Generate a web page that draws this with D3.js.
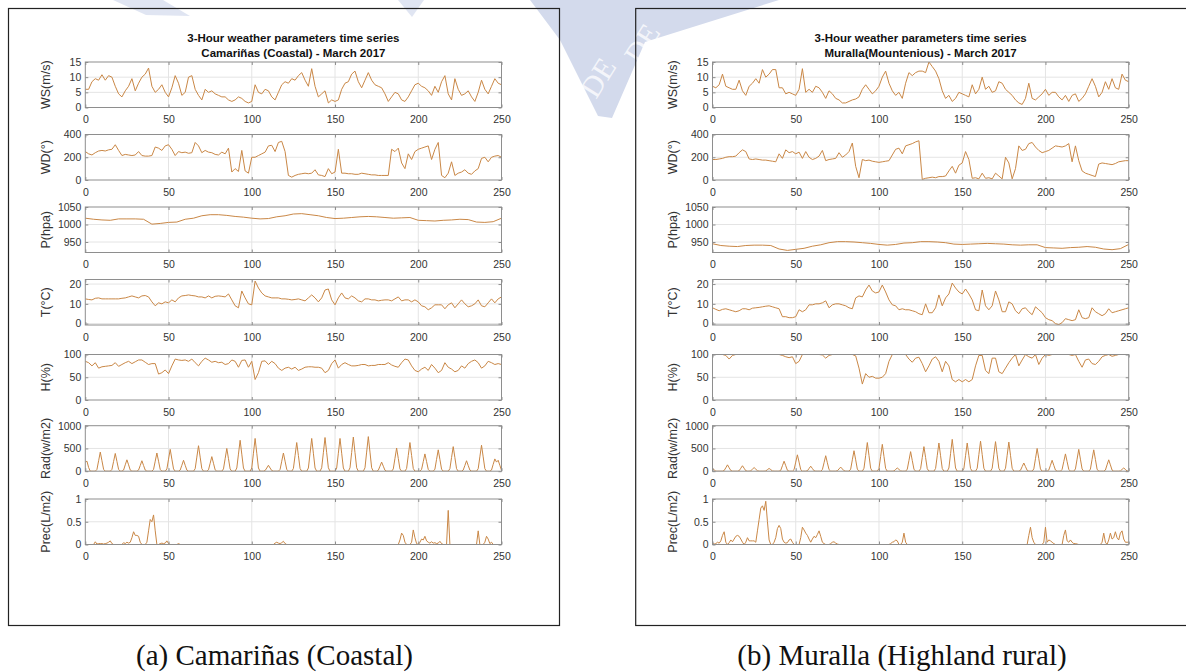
<!DOCTYPE html>
<html lang="en">
<head>
<meta charset="UTF-8">
<title>3-Hour weather parameters time series</title>
<script src="https://d3js.org/d3.v7.min.js"></script>
<style>
  body { margin: 0; background: #fff; overflow: hidden; }
  svg { display: block; }
</style>
</head>
<body>
<svg id="chart"></svg>
<script>
// spacing (in 3-hour samples) between two values of each array
const stepWind = 2, stepPres = 5, stepRad = 1;

const xTicks = [0, 50, 100, 150, 200, 250];

// ---- Camariñas (coastal) ----
const wsCoastal = [
  6, 6, 8.5, 9.5, 9, 10.8, 9, 10.5, 10, 7,
  4.5, 3.5, 5.5, 7, 9.5, 5.5, 8, 10, 11, 13,
  7, 5, 6, 7.5, 5, 3.5, 6.5, 10.5, 8, 4,
  5, 10, 10.5, 6, 4, 2.5, 6, 5, 5.5, 4.5,
  4, 3.5, 3.5, 2.5, 2, 2.5, 3.5, 3, 2, 1.5,
  2, 7.5, 5, 4.5, 6, 5.5, 3.5, 2.5, 5, 7.5,
  8.5, 8, 9.5, 9, 10.5, 11.5, 9, 7, 12.8, 7,
  3.5, 4.5, 5.5, 1.5, 2.5, 2, 2.5, 6, 8, 8.5,
  11, 12, 8.5, 6.5, 9, 11.5, 9, 7.5, 7, 6.5,
  4.5, 2, 3.5, 5, 4.5, 2.5, 2, 3.5, 5.5, 7.5,
  8, 7, 6.5, 5.5, 4, 7, 5, 8.5, 10.5, 4.5,
  2.5, 9.5, 6, 4, 4.5, 5.5, 3.5, 2, 5, 9,
  6, 4.5, 7, 9.5, 8, 7.5
];
const wdCoastal = [
  250, 230, 220, 240, 255, 260, 255, 265, 270, 310,
  260, 215, 225, 220, 215, 220, 250, 215, 210, 210,
  215, 290, 280, 260, 300, 310, 270, 215, 250, 240,
  245, 235, 240, 330, 300, 240, 260, 245, 240, 225,
  220, 245, 230, 280, 70, 100, 75, 260, 80, 60,
  200, 200, 215, 230, 245, 300, 305, 250, 330, 340,
  250, 40, 25, 40, 50, 55, 60, 55, 60, 90,
  45, 40, 30, 100, 55, 70, 270, 60, 60, 55,
  55, 50, 50, 60, 55, 50, 45, 45, 40, 40,
  40, 40, 270, 250, 280, 150, 100, 230, 180, 250,
  270, 280, 290, 300, 180, 270, 330, 40, 20, 60,
  160, 40, 60, 70, 90, 60, 50, 80, 100, 190,
  200, 160, 200, 210, 215, 200
];
const pCoastal = [
  1018, 1015, 1013, 1012, 1016, 1016, 1016, 1015, 1001, 1003,
  1006, 1007, 1015, 1018, 1025, 1028, 1028, 1026, 1023, 1021,
  1018, 1016, 1017, 1022, 1025, 1030, 1031, 1028, 1025, 1020,
  1017, 1018, 1020, 1022, 1023, 1022, 1020, 1018, 1019, 1020,
  1012, 1011, 1010, 1012, 1013, 1015, 1014, 1007, 1006, 1008,
  1018
];
const tCoastal = [
  12.5, 12.2, 12, 12.8, 13, 12.5, 12.5, 12.5, 12.5, 12.5,
  12.5, 12.8, 13, 13.5, 14, 13.5, 13, 14, 14.2, 13.5,
  11, 9, 10.5, 10, 11, 10.5, 12, 11, 13, 14,
  14.2, 14.5, 14.2, 14, 13.5, 13.5, 13, 14, 13, 13.8,
  14, 13.8, 13.5, 15, 12, 9, 8, 16.5, 13, 10,
  9.5, 21.5, 18, 15.5, 14, 13.5, 13, 13, 13, 12.5,
  12.5, 12.3, 12, 12.2, 12.5, 12, 11.5, 13, 14.5, 13,
  11, 13, 17, 17.5, 12, 9.5, 13, 15.5, 13, 12.5,
  14, 13, 11.5, 11, 12.5, 12.5, 12, 12, 11.5, 11.8,
  12, 12, 11.5, 12.5, 13.5, 11.5, 12, 12, 11, 12,
  11, 9, 8.5, 7, 8, 9.5, 9.5, 9.5, 7.5, 9.5,
  10.5, 8, 10, 12, 10, 8.5, 9, 10, 12, 9,
  8.5, 10.5, 12.5, 10.5, 12.5, 13.5
];
const hCoastal = [
  85, 82, 75, 82, 70, 73, 74, 75, 76, 82,
  74, 78, 82, 85, 80, 84, 88, 88, 83, 78,
  80, 80, 57, 60, 66, 58, 75, 90, 88, 87,
  88, 85, 90, 82, 75, 85, 92, 88, 83, 85,
  82, 83, 78, 80, 88, 85, 72, 87, 88, 72,
  85, 45, 60, 85, 86, 78, 85, 80, 70, 65,
  70, 72, 68, 72, 65, 68, 72, 73, 73, 72,
  72, 70, 60, 65, 80, 88, 70, 78, 82, 78,
  75, 75, 76, 78, 78, 75, 76, 76, 78, 78,
  78, 82, 77, 74, 72, 82, 90, 88, 75, 65,
  62, 68, 72, 65, 78, 70, 60, 65, 82, 72,
  68, 62, 65, 75, 70, 80, 85, 88, 82, 70,
  75, 85, 82, 78, 80, 78
];
const radCoastal = [
  200, 220, 80, 0, 0, 0, 0, 40, 230, 420,
  230, 40, 0, 0, 0, 0, 40, 215, 390, 215,
  40, 0, 0, 25, 140, 250, 140, 25, 0, 0,
  0, 0, 25, 125, 230, 125, 25, 0, 0, 0,
  0, 40, 220, 400, 220, 40, 0, 0, 0, 50,
  265, 480, 265, 50, 0, 0, 0, 25, 130, 240,
  130, 25, 0, 0, 0, 0, 55, 310, 560, 310,
  55, 0, 0, 0, 30, 175, 320, 175, 30, 0,
  0, 0, 0, 50, 275, 500, 275, 50, 0, 0,
  0, 70, 375, 680, 375, 70, 0, 0, 0, 0,
  70, 395, 720, 395, 70, 0, 0, 0, 15, 70,
  130, 70, 15, 0, 0, 0, 0, 40, 220, 400,
  220, 40, 0, 0, 0, 60, 345, 630, 345, 60,
  0, 0, 0, 0, 70, 395, 720, 395, 70, 0,
  0, 0, 75, 405, 740, 405, 75, 0, 0, 0,
  0, 70, 395, 720, 395, 70, 0, 0, 0, 75,
  410, 750, 410, 75, 0, 0, 0, 0, 75, 420,
  760, 420, 75, 0, 0, 0, 20, 110, 200, 110,
  20, 0, 0, 0, 0, 50, 280, 510, 280, 50,
  0, 0, 0, 60, 345, 630, 345, 60, 0, 0,
  0, 0, 40, 210, 380, 210, 40, 0, 0, 0,
  45, 260, 470, 260, 45, 0, 0, 0, 0, 55,
  300, 540, 300, 55, 0, 0, 0, 25, 125, 230,
  125, 25, 0, 0, 0, 0, 55, 315, 570, 315,
  55, 0, 0, 0, 25, 150, 270, 200, 240, 130,
  20
];
const precCoastal = [
  0, 0, 0, 0, 0, 0, 0.06, 0.01, 0.02, 0.02,
  0.02, 0.01, 0.02, 0.03, 0.05, 0.08, 0.02, 0, 0, 0,
  0, 0, 0, 0.04, 0.02, 0.05, 0.03, 0.05, 0.15, 0.28,
  0.2, 0.2, 0.18, 0.05, 0, 0, 0, 0.05, 0.3, 0.55,
  0.5, 0.65, 0.3, 0, 0, 0.02, 0.03, 0.02, 0.03, 0.08,
  0.02, 0, 0, 0, 0, 0, 0.02, 0, 0, 0,
  0, 0, 0, 0, 0, 0, 0, 0, 0, 0,
  0, 0, 0, 0, 0, 0, 0, 0, 0, 0,
  0, 0, 0, 0, 0, 0, 0, 0, 0, 0,
  0, 0, 0, 0, 0, 0, 0, 0, 0, 0,
  0, 0, 0, 0, 0, 0, 0, 0, 0, 0,
  0, 0, 0, 0, 0.03, 0.05, 0.03, 0.02, 0.04, 0.07,
  0.02, 0, 0, 0, 0, 0, 0, 0, 0, 0,
  0, 0, 0, 0, 0, 0, 0, 0, 0, 0,
  0, 0, 0, 0, 0, 0, 0, 0, 0, 0,
  0, 0, 0, 0, 0, 0, 0, 0, 0, 0,
  0, 0, 0, 0, 0, 0, 0, 0, 0, 0,
  0, 0, 0, 0, 0, 0, 0, 0, 0, 0,
  0, 0, 0, 0, 0, 0, 0, 0, 0, 0.1,
  0.25, 0.2, 0.05, 0, 0, 0, 0.05, 0.32, 0.15, 0.02,
  0, 0.05, 0.12, 0.1, 0.18, 0.08, 0.05, 0.03, 0.06, 0.03,
  0.04, 0.02, 0.03, 0.07, 0.02, 0, 0, 0, 0.75, 0,
  0, 0, 0, 0, 0, 0, 0, 0, 0, 0,
  0, 0, 0, 0, 0, 0, 0.3, 0, 0, 0,
  0.05, 0.18, 0.12, 0.02, 0.05, 0, 0, 0, 0, 0,
  0
];

// ---- Muralla (mountain) ----
const wsMountain = [
  7, 6.5, 7.5, 11, 7, 6.5, 6, 6, 9, 5.5,
  4, 7, 8, 9.5, 8, 12.5, 10, 11, 12.5, 12.5,
  6.5, 6.5, 4.5, 5, 4.5, 4, 6, 12.8, 5, 6,
  5, 7, 6.5, 5, 3, 5.5, 4.5, 3, 2.5, 1.5,
  1.5, 2, 2.5, 2.8, 3.5, 6, 7.5, 6, 4.5, 5.5,
  7, 10, 12, 8, 5.5, 4, 5, 3, 8, 11.5,
  10.5, 11.5, 12, 12, 11.5, 15, 13.5, 12, 9.5, 5.5,
  3, 4, 2, 3, 5, 4.5, 4, 3.5, 7.5, 4.5,
  6, 10, 6, 7, 5, 5.5, 8.5, 8, 6, 5,
  4, 2.5, 1.5, 1, 3, 8, 3, 2.5, 3.5, 4.5,
  6, 4, 5, 5, 3.5, 2.5, 4, 2, 4, 4.5,
  2, 3, 4.5, 7, 9.5, 7, 3.5, 5, 8.5, 6,
  9.5, 6.5, 6, 11, 9, 8.5
];
const wdMountain = [
  180, 180, 185, 190, 200, 205, 205, 210, 240, 265,
  250, 185, 180, 185, 180, 175, 175, 170, 165, 160,
  230, 190, 265, 240, 250, 230, 245, 190, 250, 200,
  180, 190, 210, 260, 170, 180, 185, 190, 240, 200,
  220, 250, 325, 120, 20, 180, 170, 175, 165, 160,
  155, 160, 165, 170, 220, 270, 280, 230, 300, 310,
  320, 335, 345, 5, 15, 20, 25, 20, 30, 30,
  35, 80, 120, 60, 130, 150, 250, 180, 15, 20,
  10, 60, 15, 20, 10, 60, 35, 10, 200, 150,
  10, 100, 300, 260, 270, 320, 330, 290, 260, 240,
  250, 260, 280, 300, 295, 290, 300, 320, 160, 300,
  170, 80, 60, 50, 40, 30, 140, 150, 145, 140,
  135, 145, 160, 165, 170, 170
];
const pMountain = [
  945, 940, 938, 937, 940, 941, 941, 940, 930, 926,
  929, 932, 938, 942, 948, 951, 951, 950, 948, 946,
  943, 941, 943, 947, 948, 951, 951, 950, 948, 944,
  943, 944, 945, 946, 945, 944, 942, 941, 942, 942,
  934, 933, 932, 934, 935, 937, 935, 930, 928, 931,
  943
];
const tMountain = [
  8, 7.2, 6.5, 7.2, 7.5, 7, 6.5, 6, 6.5, 7.5,
  7.5, 7, 7.8, 8, 8.2, 8.5, 8.8, 9, 8.5, 8,
  7.5, 3.5, 3.5, 3, 3, 3.5, 7, 6, 7, 9.5,
  9.5, 10, 10, 10.5, 11.5, 8, 9.5, 10, 10, 9.5,
  9, 8, 7.5, 13, 14, 13.5, 17, 19.5, 16.5, 15.5,
  16, 19.5, 16, 12, 9.5, 9, 7, 7.5, 7, 7,
  6.5, 6, 5, 4.5, 10, 5.5, 5.5, 8, 14.5, 9,
  13, 15, 20.5, 18, 16, 15, 17.5, 15, 12, 7,
  6.5, 17, 9, 7, 9, 16.5, 12, 6, 6, 11,
  10, 6.5, 5, 7.5, 8, 6, 4.5, 8.5, 7, 5.5,
  3, 2, 1.5, 0, -0.5, 0.5, 2.5, 2, 1.5, 2,
  7, 3, 2.5, 3, 8, 6, 5, 4, 5, 7.5,
  5.5, 6, 6.5, 7, 7.5, 8
];
const hMountain = [
  100, 100, 100, 100, 98, 90, 98, 100, 100, 100,
  100, 100, 100, 100, 100, 100, 100, 100, 100, 100,
  100, 98, 95, 93, 95, 80, 85, 100, 100, 100,
  100, 100, 100, 99, 92, 98, 100, 100, 100, 100,
  100, 100, 100, 97, 70, 35, 58, 50, 52, 48,
  48, 50, 58, 85, 100, 100, 100, 100, 100, 90,
  83, 92, 94, 80, 62, 75, 90, 95, 85, 62,
  85, 75, 45, 40, 45, 40, 45, 40, 45, 75,
  98, 98, 65, 58, 92, 92, 62, 58, 70, 82,
  92, 100, 75, 88, 100, 95, 92, 100, 78, 92,
  100, 98, 100, 100, 100, 100, 100, 100, 98, 100,
  85, 72, 88, 90, 80, 78, 85, 95, 98, 100,
  96, 98, 100, 100, 100, 100
];
const radMountain = [
  60, 30, 0, 0, 0, 0, 0, 15, 75, 140,
  75, 15, 0, 0, 0, 0, 10, 65, 120, 65,
  10, 0, 0, 10, 45, 80, 45, 10, 0, 0,
  0, 0, 5, 35, 60, 35, 5, 0, 0, 0,
  0, 20, 120, 220, 120, 20, 0, 0, 0, 35,
  200, 360, 200, 35, 0, 0, 0, 10, 60, 110,
  60, 10, 0, 0, 0, 0, 35, 185, 340, 185,
  35, 0, 0, 0, 0, 10, 50, 90, 50, 10,
  0, 0, 0, 45, 250, 450, 250, 45, 0, 0,
  0, 65, 345, 630, 345, 65, 0, 0, 0, 0,
  60, 325, 590, 325, 60, 0, 0, 0, 0, 5,
  40, 70, 40, 5, 0, 0, 0, 45, 235, 430,
  235, 45, 0, 0, 0, 55, 300, 540, 300, 55,
  0, 0, 0, 0, 60, 340, 620, 340, 60, 0,
  0, 0, 70, 385, 700, 385, 70, 0, 0, 0,
  0, 60, 340, 620, 340, 60, 0, 0, 0, 65,
  365, 660, 365, 65, 0, 0, 0, 0, 65, 360,
  650, 360, 65, 0, 0, 0, 65, 350, 640, 350,
  65, 0, 0, 0, 0, 20, 100, 180, 100, 20,
  0, 0, 0, 50, 275, 500, 275, 50, 0, 0,
  0, 0, 25, 130, 240, 130, 25, 0, 0, 0,
  40, 210, 380, 210, 40, 0, 0, 0, 50, 265,
  480, 265, 50, 0, 0, 0, 0, 45, 260, 470,
  260, 45, 0, 0, 0, 0, 25, 140, 250, 140,
  25, 0, 0, 0, 0, 5, 40, 70, 40, 5,
  0
];
const precMountain = [
  0.02, 0.01, 0.02, 0.05, 0.03, 0.08, 0.2, 0.28, 0.05, 0,
  0.04, 0.1, 0.06, 0.12, 0.18, 0.2, 0.18, 0.12, 0.05, 0,
  0.05, 0.15, 0.08, 0.08, 0.08, 0.08, 0.05, 0.3, 0.55, 0.8,
  0.85, 0.75, 0.95, 0.5, 0.1, 0, 0, 0.05, 0.15, 0.35,
  0.42, 0.35, 0.12, 0.05, 0.03, 0.04, 0.1, 0.12, 0.05, 0,
  0, 0, 0, 0.15, 0.38, 0.32, 0.25, 0.2, 0.12, 0.05,
  0.12, 0.18, 0.15, 0.22, 0.3, 0.18, 0.05, 0.02, 0, 0,
  0, 0.02, 0.05, 0.06, 0.03, 0.01, 0, 0, 0, 0,
  0, 0, 0, 0, 0, 0, 0, 0, 0, 0,
  0, 0, 0, 0, 0, 0, 0, 0, 0, 0,
  0, 0, 0, 0, 0, 0, 0, 0.02, 0.05, 0.06,
  0.1, 0.08, 0, 0, 0.05, 0.25, 0.05, 0, 0, 0,
  0, 0, 0, 0, 0, 0, 0, 0, 0, 0,
  0, 0, 0, 0, 0, 0, 0, 0, 0, 0,
  0, 0, 0, 0, 0, 0, 0, 0, 0, 0,
  0, 0, 0, 0, 0, 0, 0, 0, 0, 0,
  0, 0, 0, 0, 0, 0, 0, 0, 0, 0,
  0, 0, 0, 0, 0, 0, 0, 0, 0, 0,
  0, 0, 0, 0, 0, 0, 0, 0, 0, 0,
  0.2, 0.38, 0.15, 0.05, 0, 0, 0, 0, 0, 0.05,
  0.38, 0.05, 0.1, 0.08, 0.05, 0.02, 0, 0, 0, 0,
  0, 0.2, 0.32, 0.08, 0.05, 0.1, 0.05, 0.02, 0.02, 0.01,
  0, 0, 0, 0, 0, 0, 0, 0, 0, 0,
  0, 0, 0, 0, 0.05, 0.25, 0.05, 0, 0.1, 0.25,
  0.12, 0.15, 0.28, 0.15, 0.1, 0.25, 0.3, 0.12, 0.05, 0.05,
  0.05
];

// subplot settings (one row per variable)
const rows = [
  { label: "WS(m/s)",    domain: [0, 15],       ticks: [0, 5, 10, 15],    step: stepWind },
  { label: "WD(°)",      domain: [0, 400],      ticks: [0, 200, 400],     step: stepWind },
  { label: "P(hpa)",     domain: [920, 1050],   ticks: [950, 1000, 1050], step: stepPres },
  { label: "T(°C)",      domain: [-0.7, 22.3],  ticks: [0, 10, 20],       step: stepWind },
  { label: "H(%)",       domain: [0, 100],      ticks: [0, 50, 100],      step: stepWind },
  { label: "Rad(w/m2)",  domain: [0, 1000],     ticks: [0, 500, 1000],    step: stepRad },
  { label: "Prec(L/m2)", domain: [0, 1],        ticks: [0, 0.5, 1],       step: stepRad }
];

const stations = [
  { name: "Camariñas (Coastal) - March 2017", caption: "(a) Camariñas (Coastal)",
    series: [wsCoastal, wdCoastal, pCoastal, tCoastal, hCoastal, radCoastal, precCoastal] },
  { name: "Muralla(Mountenious) - March 2017", caption: "(b) Muralla (Highland rural)",
    series: [wsMountain, wdMountain, pMountain, tMountain, hMountain, radMountain, precMountain] }
];

const W = 1186, H = 672;
const panelShift = [0, 627.2];
const captionX = [274.5, 902];
const plotLeft = 85.3, plotRight = 501.5;
const rowTops = [62, 134.5, 207, 279.5, 354.5, 425.7, 499];
const rowH = 45.5;
const lineColor = "#c98746";
const font = "'Liberation Sans', Arial, sans-serif";

const svg = d3.select("#chart").attr("width", W).attr("height", H)
  .style("font-family", font);

svg.append("rect").attr("width", W).attr("height", H).attr("fill", "#fff");

// faint watermark of the source document, behind the figures
const mark = svg.append("g").attr("fill", "#d3daec");
mark.append("path").attr("d", "M530,0 L779,0 L645,42 L612,118 L598,116 L560,40 Z");
mark.append("path").attr("d", "M113,0 L163,0 L190,16 L146,15 Z").attr("opacity", 0.7);
mark.append("path").attr("d", "M398,0 L424,0 L412,17 Z").attr("opacity", 0.7);
mark.selectAll("text").data([[596, 100], [640, 66]]).join("text")
  .attr("transform", d => `translate(${d[0]},${d[1]}) rotate(-58)`)
  .attr("font-family", "'Liberation Serif', serif").attr("font-size", 30)
  .attr("fill", "#fff").attr("fill-opacity", 0.75)
  .text("DE");

stations.forEach((st, si) => {
  const dx = panelShift[si];
  const panel = svg.append("g").attr("transform", `translate(${dx},0)`);

  // outer frame of the figure
  panel.append("rect")
    .attr("x", 8.5).attr("y", 8.5).attr("width", 551).attr("height", 617)
    .attr("fill", "none").attr("stroke", "#222").attr("stroke-width", 1.2);

  const x = d3.scaleLinear().domain([0, 250]).range([plotLeft, plotRight]);

  // title
  const cx = (plotLeft + plotRight) / 2;
  panel.append("text").attr("x", cx).attr("y", 41.5).attr("text-anchor", "middle")
    .attr("font-size", 11.5).attr("font-weight", "bold").attr("fill", "#111")
    .text("3-Hour weather parameters time series");
  panel.append("text").attr("x", cx).attr("y", 57).attr("text-anchor", "middle")
    .attr("font-size", 11.5).attr("font-weight", "bold").attr("fill", "#111")
    .text(st.name);

  rows.forEach((row, ri) => {
    const top = rowTops[ri], bottom = top + rowH;
    const y = d3.scaleLinear().domain(row.domain).range([bottom, top]);
    const g = panel.append("g");
    const clipId = `clip-${si}-${ri}`;
    g.append("clipPath").attr("id", clipId).append("rect")
      .attr("x", plotLeft).attr("y", top).attr("width", plotRight - plotLeft).attr("height", rowH);

    // grid
    g.append("g").selectAll("line").data(xTicks.slice(1, -1)).join("line")
      .attr("x1", d => x(d)).attr("x2", d => x(d)).attr("y1", top).attr("y2", bottom)
      .attr("stroke", "#e4e4e4").attr("stroke-width", 1);
    g.append("g").selectAll("line").data(row.ticks.filter(t => y(t) > top + 0.5 && y(t) < bottom - 0.5)).join("line")
      .attr("x1", plotLeft).attr("x2", plotRight).attr("y1", d => y(d)).attr("y2", d => y(d))
      .attr("stroke", "#e4e4e4").attr("stroke-width", 1);

    // data line
    const series = st.series[ri];
    g.append("path").datum(series)
      .attr("clip-path", `url(#${clipId})`)
      .attr("fill", "none").attr("stroke", lineColor).attr("stroke-width", 1)
      .attr("stroke-linejoin", "round")
      .attr("d", d3.line().x((d, i) => x(i * row.step)).y(d => y(d)));

    // box
    g.append("rect").attr("x", plotLeft).attr("y", top)
      .attr("width", plotRight - plotLeft).attr("height", rowH)
      .attr("fill", "none").attr("stroke", "#8e8e8e").attr("stroke-width", 1);

    const styleAxis = a => {
      a.select(".domain").remove();
      a.selectAll(".tick line").attr("stroke", "#8e8e8e");
      a.selectAll(".tick text").attr("fill", "#333").attr("font-size", 10.5)
        .attr("font-family", font);
    };

    g.append("g").attr("transform", `translate(0,${bottom})`)
      .call(d3.axisBottom(x).tickValues(xTicks).tickSizeInner(-3).tickSizeOuter(0).tickPadding(8.5))
      .call(styleAxis);
    g.append("g").attr("transform", `translate(0,${top})`)
      .call(d3.axisTop(x).tickValues(xTicks).tickSizeInner(-3).tickSizeOuter(0).tickFormat(""))
      .call(styleAxis);
    g.append("g").attr("transform", `translate(${plotLeft},0)`)
      .call(d3.axisLeft(y).tickValues(row.ticks).tickSizeInner(-3).tickSizeOuter(0)
        .tickPadding(4).tickFormat(d => String(d)))
      .call(styleAxis);
    g.append("g").attr("transform", `translate(${plotRight},0)`)
      .call(d3.axisRight(y).tickValues(row.ticks).tickSizeInner(-3).tickSizeOuter(0).tickFormat(""))
      .call(styleAxis);

    // y label
    g.append("text")
      .attr("transform", `translate(${plotLeft - 40},${(top + bottom) / 2}) rotate(-90)`)
      .attr("text-anchor", "middle").attr("dy", "0.35em")
      .attr("font-size", 12.5).attr("fill", "#333")
      .text(row.label);
  });

  // caption under the figure
  svg.append("text").attr("x", captionX[si]).attr("y", 665)
    .attr("text-anchor", "middle")
    .attr("font-family", "'Liberation Serif', 'Times New Roman', serif")
    .attr("font-size", 29).attr("fill", "#111")
    .text(st.caption);
});
</script>
</body>
</html>
